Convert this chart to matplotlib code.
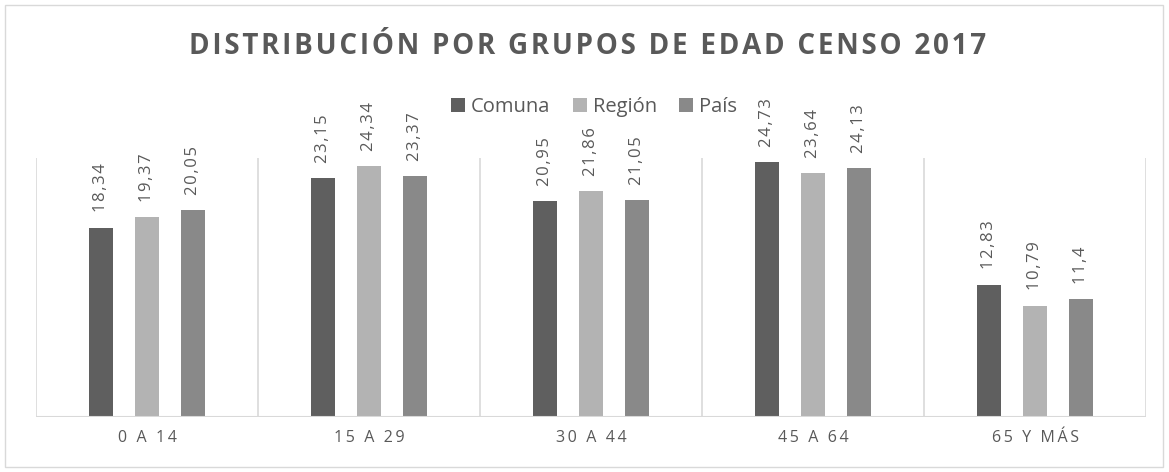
import matplotlib.pyplot as plt
import numpy as np

categories = ['0 A 14', '15 A 29', '30 A 44', '45 A 64', '65 Y MÁS']
comuna = [18.34, 23.15, 20.95, 24.73, 12.83]
region = [19.37, 24.34, 21.86, 23.64, 10.79]
pais = [20.05, 23.37, 21.05, 24.13, 11.4]
series_names = ['Comuna', 'Región', 'País']
title = 'DISTRIBUCIÓN POR GRUPOS DE EDAD CENSO 2017'

colors = ['#5f5f5f', '#b3b3b3', '#898989']
text_c = '#595959'
line_c = '#d9d9d9'


def spaced(s, sep='\u200a'):
    return sep.join(s)


plt.rcParams['font.family'] = ['Open Sans', 'DejaVu Sans']

fig = plt.figure(figsize=(11.69, 4.72), dpi=100)
ax = fig.add_axes([36 / 1169, 55 / 472, 1110 / 1169, 259 / 472])

x = np.arange(len(categories))
w = 0.108
off = 0.206
for i, (vals, name) in enumerate(zip([comuna, region, pais], series_names)):
    pos = x + (i - 1) * off
    bars = ax.bar(pos, vals, width=w, color=colors[i], label=name, zorder=2)
    for b, v in zip(bars, vals):
        lab = f'{v:g}'.replace('.', ',')
        ax.annotate(spaced(lab, '\u200a'), (b.get_x() + b.get_width() / 2, v),
                    xytext=(0, 11), textcoords='offset points', rotation=90,
                    ha='center', va='bottom', fontsize=12, color=text_c)

ax.set_xlim(-0.5, len(categories) - 0.5)
ax.set_ylim(0, 25.1)
for b in np.arange(-0.5, len(categories), 1.0):
    ax.axvline(b, color=line_c, lw=1.2, zorder=1)
for s in ax.spines.values():
    s.set_visible(False)
ax.axhline(0, color=line_c, lw=1.5, zorder=3)
ax.set_yticks([])
ax.set_xticks(x)
ax.set_xticklabels([spaced(c, '\u2009') for c in categories], color=text_c, fontsize=11.5)
ax.tick_params(axis='x', length=0, pad=9)

fig.legend(loc='center', bbox_to_anchor=(594 / 1169, 1 - 107 / 472), ncols=3, frameon=False,
           fontsize=14.5, handlelength=0.7, handleheight=0.7, handletextpad=0.3,
           columnspacing=1.1, labelcolor=text_c)

fig.text(588 / 1169, 1 - 46 / 472, spaced(title, '\u200a'), ha='center', va='center',
         fontsize=20, fontweight='bold', color=text_c)

fig.patches.append(plt.Rectangle((5 / 1169, 5 / 472), 1158 / 1169, 462 / 472,
                                 transform=fig.transFigure, fill=False,
                                 edgecolor=line_c, lw=1))

fig.savefig('out.png', dpi=100)
